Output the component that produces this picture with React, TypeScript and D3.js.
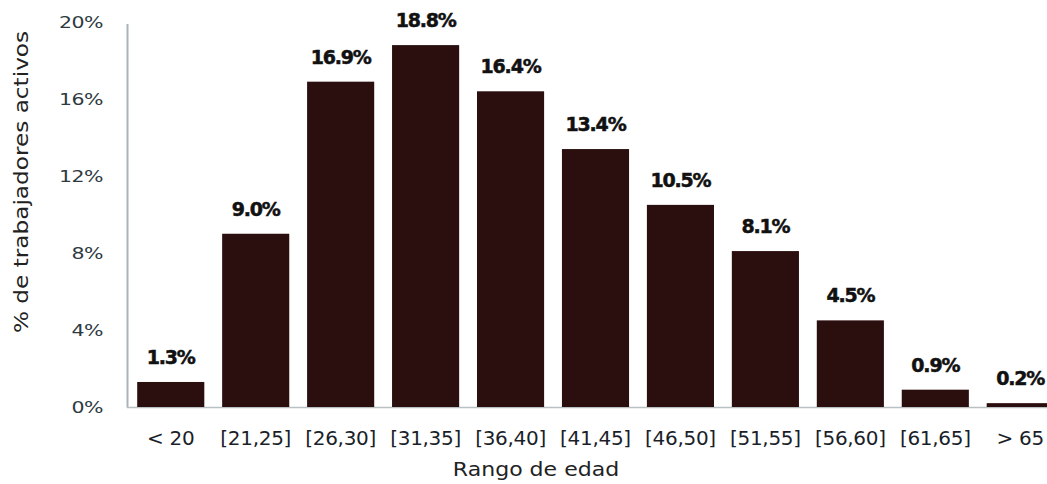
import React from "react";
import * as d3 from "d3";

const categories = ["< 20", "[21,25]", "[26,30]", "[31,35]", "[36,40]", "[41,45]", "[46,50]", "[51,55]", "[56,60]", "[61,65]", "> 65"];
const values = [1.3, 9.0, 16.9, 18.8, 16.4, 13.4, 10.5, 8.1, 4.5, 0.9, 0.2];
const yTicks = [0, 4, 8, 12, 16, 20];

const W = 1047;
const H = 484;

export default function App() {
  const x = d3
    .scaleBand<string>()
    .domain(categories)
    .range([127, 1064])
    .paddingInner(0.21)
    .paddingOuter(0.12);
  const y = d3.scaleLinear().domain([0, 20]).range([407, 22]);
  const font = "'DejaVu Sans', 'Noto Sans', sans-serif";

  return (
    <svg
      width={W}
      height={H}
      style={{ position: "absolute", left: 0, top: 0, display: "block", background: "#fff" }}
      fontFamily={font}
    >
      {/* axes */}
      <line x1={127.5} x2={127.5} y1={24} y2={407.5} stroke="#a9b4b8" strokeWidth={2} />
      <line x1={127} x2={W} y1={407.5} y2={407.5} stroke="#b8c0c2" strokeWidth={1.5} />
      {yTicks.map((t) => (
        <text
          key={t}
          transform={`translate(103,${y(t)}) scale(1.28,1)`}
          dy="0.36em"
          textAnchor="end"
          fontSize={16}
          fill="#2e3a40"
          letterSpacing={-0.4}
        >
          {t}%
        </text>
      ))}
      {categories.map((c, i) => (
        <g key={c}>
          <rect
            x={x(c)}
            y={y(values[i])}
            width={x.bandwidth()}
            height={y(0) - y(values[i])}
            fill="#2b0f0f"
          />
          <text
            x={(x(c) as number) + x.bandwidth() / 2}
            y={y(values[i]) - 18}
            textAnchor="middle"
            fontSize={19}
            fontWeight={700}
            fill="#111"
            stroke="#111"
            strokeWidth={0.5}
            letterSpacing={-1.2}
          >
            {values[i].toFixed(1)}%
          </text>
          <text
            x={(x(c) as number) + x.bandwidth() / 2}
            y={438}
            dy="0.36em"
            textAnchor="middle"
            fontSize={20}
            fill="#1a1f2a"
            letterSpacing={-0.3}
          >
            {c}
          </text>
        </g>
      ))}
      <text
        transform="translate(536,476) scale(1.16,1)"
        textAnchor="middle"
        fontSize={19}
        fill="#222"
      >
        Rango de edad
      </text>
      <text
        transform="translate(28,182) rotate(-90) scale(1.16,1)"
        textAnchor="middle"
        fontSize={20}
        fill="#222"
      >
        % de trabajadores activos
      </text>
    </svg>
  );
}
